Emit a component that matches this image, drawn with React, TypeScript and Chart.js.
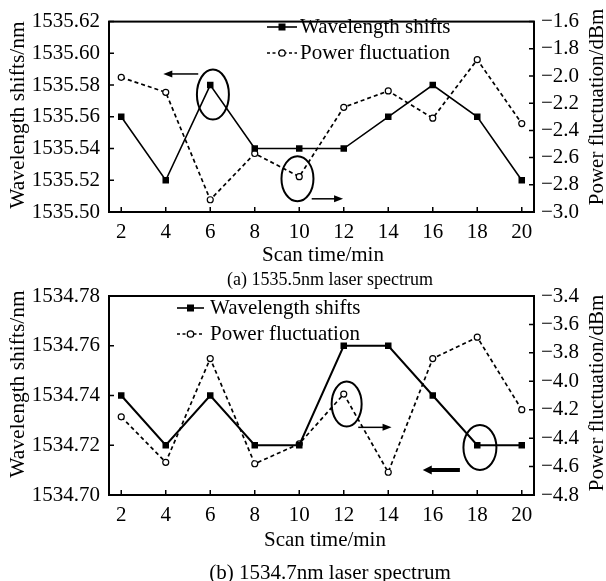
import React, { useEffect, useRef } from 'react';
import { Chart, registerables } from 'chart.js';

Chart.register(...registerables);

// ---------- data ----------
const scanTimes = [2, 4, 6, 8, 10, 12, 14, 16, 18, 20];
const xTickValues = [2, 4, 6, 8, 10, 12, 14, 16, 18, 20];

const wavelengthA = [1535.56, 1535.52, 1535.58, 1535.54, 1535.54, 1535.54, 1535.56, 1535.58, 1535.56, 1535.52];
const powerA = [-2.01, -2.12, -2.91, -2.57, -2.74, -2.23, -2.11, -2.31, -1.88, -2.35];
const wlTicksA = [1535.5, 1535.52, 1535.54, 1535.56, 1535.58, 1535.6, 1535.62];
const pwTicksA = [-3.0, -2.8, -2.6, -2.4, -2.2, -2.0, -1.8, -1.6];

const wavelengthB = [1534.74, 1534.72, 1534.74, 1534.72, 1534.72, 1534.76, 1534.76, 1534.74, 1534.72, 1534.72];
const powerB = [-4.25, -4.57, -3.84, -4.58, -4.44, -4.09, -4.64, -3.84, -3.69, -4.2];
const wlTicksB = [1534.7, 1534.72, 1534.74, 1534.76, 1534.78];
const pwTicksB = [-4.8, -4.6, -4.4, -4.2, -4.0, -3.8, -3.6, -3.4];

const legendLabels = ['Wavelength shifts', 'Power fluctuation'];
const xTitle = 'Scan time/min';
const yTitle = 'Wavelength shifts/nm';
const y1Title = 'Power fluctuation/dBm';
const captionA = '(a) 1535.5nm laser spectrum';
const captionB = '(b) 1534.7nm laser spectrum';

const FONT = '"Liberation Serif", "Times New Roman", serif';
const W = 606;
const H = 581;

type Ann =
  | { kind: 'ellipse'; axis: 'y' | 'y1'; x: number; y: number; rx: number; ry: number }
  | { kind: 'arrow'; axis: 'y' | 'y1'; x0: number; x1: number; y: number; width: number; head: number; half: number };

interface Cfg {
  wl: number[];
  pw: number[];
  wlTicks: number[];
  pwTicks: number[];
  top: number;
  bottom: number;
  wlWidth: number;
  legend: { x0: number; x1: number; tx: number; y0: number; y1: number };
  yTitleY: number;
  y1TitleY: number;
  xTitlePos: { x: number; y: number };
  caption: { text: string; x: number; y: number; size: number };
  anns: Ann[];
}

function makeDecor(cfg: Cfg) {
  return {
    id: 'decor',
    afterDraw(chart: any) {
      const ctx: CanvasRenderingContext2D = chart.ctx;
      const a = chart.chartArea;
      const sx = chart.scales.x;
      const sy = chart.scales.y;
      const sy1 = chart.scales.y1;
      ctx.save();
      ctx.strokeStyle = '#000';
      ctx.fillStyle = '#000';
      // frame
      ctx.lineWidth = 2;
      ctx.strokeRect(a.left, a.top, a.right - a.left, a.bottom - a.top);
      // inward ticks
      ctx.lineWidth = 1.5;
      ctx.beginPath();
      sx.ticks.forEach((t: any) => {
        const p = sx.getPixelForValue(t.value);
        ctx.moveTo(p, a.bottom);
        ctx.lineTo(p, a.bottom - 5);
      });
      sy.ticks.forEach((t: any) => {
        const p = sy.getPixelForValue(t.value);
        ctx.moveTo(a.left, p);
        ctx.lineTo(a.left + 5, p);
      });
      sy1.ticks.forEach((t: any) => {
        const p = sy1.getPixelForValue(t.value);
        ctx.moveTo(a.right, p);
        ctx.lineTo(a.right - 5, p);
      });
      ctx.stroke();

      // annotations
      cfg.anns.forEach((an) => {
        const ys = an.axis === 'y' ? sy : sy1;
        if (an.kind === 'ellipse') {
          ctx.lineWidth = 2;
          ctx.setLineDash([]);
          ctx.beginPath();
          ctx.ellipse(sx.getPixelForValue(an.x), ys.getPixelForValue(an.y), an.rx, an.ry, 0, 0, Math.PI * 2);
          ctx.stroke();
        } else {
          const x0 = sx.getPixelForValue(an.x0);
          const x1 = sx.getPixelForValue(an.x1);
          const y = ys.getPixelForValue(an.y);
          const dir = x1 > x0 ? 1 : -1;
          ctx.lineWidth = an.width;
          ctx.beginPath();
          ctx.moveTo(x0, y);
          ctx.lineTo(x1 - dir * an.head * 0.8, y);
          ctx.stroke();
          ctx.beginPath();
          ctx.moveTo(x1, y);
          ctx.lineTo(x1 - dir * an.head, y - an.half);
          ctx.lineTo(x1 - dir * an.head, y + an.half);
          ctx.closePath();
          ctx.fill();
        }
      });

      // legend
      const L = cfg.legend;
      ctx.font = `21px ${FONT}`;
      ctx.textBaseline = 'middle';
      ctx.textAlign = 'left';
      ctx.lineWidth = 1.6;
      ctx.setLineDash([]);
      ctx.beginPath();
      ctx.moveTo(L.x0, L.y0);
      ctx.lineTo(L.x1, L.y0);
      ctx.stroke();
      const mx = (L.x0 + L.x1) / 2;
      ctx.fillRect(mx - 3.5, L.y0 - 3.5, 7, 7);
      ctx.fillText(legendLabels[0], L.tx, L.y0);
      ctx.setLineDash([3, 2.5]);
      ctx.beginPath();
      ctx.moveTo(L.x0, L.y1);
      ctx.lineTo(L.x1, L.y1);
      ctx.stroke();
      ctx.setLineDash([]);
      ctx.beginPath();
      ctx.arc(mx, L.y1, 3.2, 0, Math.PI * 2);
      ctx.fillStyle = '#fff';
      ctx.fill();
      ctx.lineWidth = 1.3;
      ctx.stroke();
      ctx.fillStyle = '#000';
      ctx.fillText(legendLabels[1], L.tx, L.y1);

      // axis titles
      ctx.textAlign = 'center';
      ctx.font = `21.5px ${FONT}`;
      ctx.save();
      ctx.translate(18, cfg.yTitleY);
      ctx.rotate(-Math.PI / 2);
      ctx.fillText(yTitle, 0, 0);
      ctx.restore();
      ctx.font = `21px ${FONT}`;
      ctx.save();
      ctx.translate(597, cfg.y1TitleY);
      ctx.rotate(-Math.PI / 2);
      ctx.fillText(y1Title, 0, 0);
      ctx.restore();
      ctx.fillText(xTitle, cfg.xTitlePos.x, cfg.xTitlePos.y);
      ctx.font = `${cfg.caption.size}px ${FONT}`;
      ctx.fillText(cfg.caption.text, cfg.caption.x, cfg.caption.y);
      ctx.restore();
    },
  };
}

const negFmt = (v: number) => (v < 0 ? '\u2212' : '') + Math.abs(v).toFixed(1);

function buildChart(canvas: HTMLCanvasElement, cfg: Cfg) {
  const tickFont = { family: FONT, size: 21 };
  return new Chart(canvas, {
    type: 'line',
    data: {
      datasets: [
        {
          label: legendLabels[0],
          data: scanTimes.map((x, i) => ({ x, y: cfg.wl[i] })),
          yAxisID: 'y',
          borderColor: '#000',
          backgroundColor: '#000',
          borderWidth: cfg.wlWidth,
          pointStyle: 'rect',
          pointRadius: 4.6,
          pointBackgroundColor: '#000',
          pointBorderWidth: 0,
          tension: 0,
        },
        {
          label: legendLabels[1],
          data: scanTimes.map((x, i) => ({ x, y: cfg.pw[i] })),
          yAxisID: 'y1',
          borderColor: '#000',
          borderDash: [4, 3],
          borderWidth: 1.7,
          pointStyle: 'circle',
          pointRadius: 3,
          pointBackgroundColor: '#fff',
          pointBorderColor: '#000',
          pointBorderWidth: 1.2,
          tension: 0,
        },
      ],
    } as any,
    options: {
      responsive: false,
      animation: false,
      events: [],
      layout: { padding: { top: cfg.top, left: 0, right: 0, bottom: 0 } },
      plugins: { legend: { display: false }, tooltip: { enabled: false } },
      scales: {
        x: {
          type: 'linear',
          position: 'bottom',
          min: 1.45,
          max: 20.55,
          grid: { display: false, drawTicks: false },
          border: { display: false },
          ticks: { font: tickFont, color: '#000', padding: 8, maxRotation: 0, autoSkip: false },
          afterBuildTicks: (s: any) => {
            s.ticks = xTickValues.map((v) => ({ value: v }));
          },
          afterFit: (s: any) => {
            s.height = H - cfg.bottom;
          },
        },
        y: {
          type: 'linear',
          position: 'left',
          min: cfg.wlTicks[0],
          max: cfg.wlTicks[cfg.wlTicks.length - 1],
          grid: { display: false, drawTicks: false },
          border: { display: false },
          ticks: { font: tickFont, color: '#000', padding: 9, autoSkip: false, callback: (v: any) => Number(v).toFixed(2) },
          afterBuildTicks: (s: any) => {
            s.ticks = cfg.wlTicks.map((v) => ({ value: v }));
          },
          afterFit: (s: any) => {
            s.width = 109;
          },
        },
        y1: {
          type: 'linear',
          position: 'right',
          min: cfg.pwTicks[0],
          max: cfg.pwTicks[cfg.pwTicks.length - 1],
          grid: { display: false, drawTicks: false },
          border: { display: false },
          ticks: { font: tickFont, color: '#000', padding: 7, autoSkip: false, callback: (v: any) => negFmt(Number(v)) },
          afterBuildTicks: (s: any) => {
            s.ticks = cfg.pwTicks.map((v) => ({ value: v }));
          },
          afterFit: (s: any) => {
            s.width = W - 534;
          },
        },
      },
    } as any,
    plugins: [makeDecor(cfg)],
  });
}

const cfgA: Cfg = {
  wl: wavelengthA,
  pw: powerA,
  wlTicks: wlTicksA,
  pwTicks: pwTicksA,
  top: 15,
  bottom: 212,
  wlWidth: 1.6,
  legend: { x0: 267, x1: 297, tx: 300, y0: 27, y1: 53 },
  yTitleY: 115,
  y1TitleY: 107,
  xTitlePos: { x: 323, y: 255 },
  caption: { text: captionA, x: 330, y: 280, size: 18 },
  anns: [
    { kind: 'ellipse', axis: 'y', x: 6.12, y: 1535.574, rx: 16, ry: 25 },
    { kind: 'arrow', axis: 'y', x0: 5.46, x1: 3.89, y: 1535.587, width: 1.5, head: 9, half: 3.5 },
    { kind: 'ellipse', axis: 'y1', x: 9.92, y: -2.755, rx: 16, ry: 22.5 },
    { kind: 'arrow', axis: 'y1', x0: 10.56, x1: 11.97, y: -2.903, width: 1.5, head: 9, half: 3.5 },
  ],
};

const cfgB: Cfg = {
  wl: wavelengthB,
  pw: powerB,
  wlTicks: wlTicksB,
  pwTicks: pwTicksB,
  top: 296,
  bottom: 495,
  wlWidth: 2,
  legend: { x0: 177, x1: 204, tx: 210, y0: 308, y1: 334 },
  yTitleY: 384,
  y1TitleY: 393,
  xTitlePos: { x: 325, y: 540 },
  caption: { text: captionB, x: 330, y: 573, size: 21 },
  anns: [
    { kind: 'ellipse', axis: 'y1', x: 12.13, y: -4.16, rx: 15, ry: 22.5 },
    { kind: 'arrow', axis: 'y1', x0: 12.65, x1: 14.15, y: -4.324, width: 1.5, head: 9, half: 3.5 },
    { kind: 'ellipse', axis: 'y', x: 18.12, y: 1534.7191, rx: 16.5, ry: 22.5 },
    { kind: 'arrow', axis: 'y1', x0: 17.22, x1: 15.55, y: -4.624, width: 4, head: 9, half: 4.5 },
  ],
};

export default function App() {
  const refA = useRef<HTMLCanvasElement>(null);
  const refB = useRef<HTMLCanvasElement>(null);

  useEffect(() => {
    Chart.defaults.font.family = FONT;
    Chart.defaults.color = '#000';
    const a = refA.current ? buildChart(refA.current, cfgA) : null;
    const b = refB.current ? buildChart(refB.current, cfgB) : null;
    return () => {
      a?.destroy();
      b?.destroy();
    };
  }, []);

  const cs: React.CSSProperties = { position: 'absolute', left: 0, top: 0, width: W, height: H };
  return (
    <div style={{ position: 'fixed', left: 0, top: 0, width: W, height: H, background: '#fff' }}>
      <canvas ref={refA} width={W} height={H} style={cs} />
      <canvas ref={refB} width={W} height={H} style={cs} />
    </div>
  );
}
